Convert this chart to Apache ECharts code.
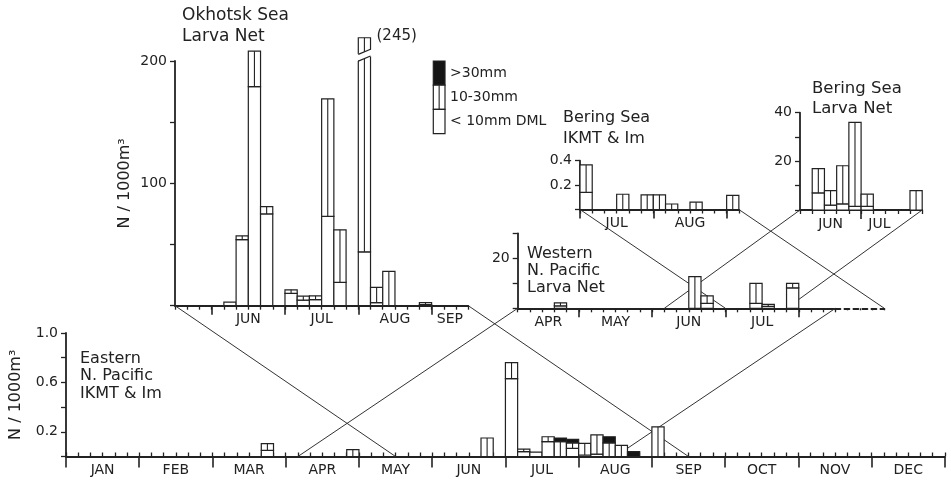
<!DOCTYPE html>
<html><head><meta charset="utf-8">
<script src="https://cdn.jsdelivr.net/npm/echarts@6/dist/echarts.min.js"></script>
<style>html,body{margin:0;padding:0;background:#fff}#c{width:951px;height:483px}</style>
</head><body><div id="c"></div>
<script>
// ---- DATA (x = 5-day period index, 6 per month, 0 = Jan 1-5) ----
const MONTHS = ['JAN','FEB','MAR','APR','MAY','JUN','JUL','AUG','SEP','OCT','NOV','DEC'];

// Eastern N. Pacific, IKMT & Im (N/1000 m3)
const eastBins  = [16, 23, 34, 36, 37, 38, 39, 40, 41, 42, 43, 44, 45, 46, 48];
const eastLt10  = [0.05, 0, 0, 0.63, 0.04, 0.035, 0.12, 0, 0.066, 0.012, 0.02, 0, 0, 0, 0];
const east10_30 = [0.055, 0.055, 0.15, 0.13, 0.02, 0, 0.04, 0.12, 0.045, 0.095, 0.155, 0.11, 0.09, 0, 0.24];
const eastGt30  = [0, 0, 0, 0, 0, 0, 0, 0.03, 0.028, 0, 0, 0.05, 0, 0.04, 0];

// Okhotsk Sea, Larva Net
const okhBins  = [31, 32, 33, 34, 36, 37, 38, 39, 40, 42, 43, 44, 47];
const okhLt10  = [3, 54, 179, 75, 10, 4.6, 5, 73, 19, 44, 2.5, 0, 1];
const okh10_30 = [0, 3, 29, 6, 3, 3.2, 3, 96, 43, 201, 12.5, 28, 1.5];
const okhGt30  = [0, 0, 0, 0, 0, 0, 0, 0, 0, 0, 0, 0, 0];

// Western N. Pacific, Larva Net
const westBins  = [22, 33, 34, 38, 39, 41];
const westLt10  = [1, 0, 2, 2, 0.8, 8.2];
const west10_30 = [1.2, 12.7, 3, 8, 0.8, 1.8];
const westGt30  = [0, 0, 0, 0, 0, 0];

// Bering Sea, IKMT & Im
const berIKBins  = [36, 39, 41, 42, 43, 45, 48];
const berIKLt10  = [0.14, 0, 0, 0, 0, 0, 0];
const berIK10_30 = [0.225, 0.125, 0.12, 0.12, 0.045, 0.06, 0.115];
const berIKGt30  = [0, 0, 0, 0, 0, 0, 0];

// Bering Sea, Larva Net
const berLNBins  = [32, 33, 34, 35, 36, 40];
const berLNLt10  = [7, 2, 2.5, 1.5, 1.5, 0];
const berLN10_30 = [10, 6, 15.7, 34.5, 5, 8];
const berLNGt30  = [0, 0, 0, 0, 0, 0];

// tick labels
const eastYLabels = [0.2, 0.6, 1.0];
const okhYLabels = [100, 200];
const westYLabels = [20];
const berIKYLabels = [0.2, 0.4];
const berLNYLabels = [20, 40];

const eastMonthPos = [3, 9, 15, 21, 27, 33, 39, 45, 51, 57, 63, 69];
const eastMonthTxt = MONTHS;
const okhMonthPos = [33, 39, 45, 49.5];
const okhMonthTxt = ['JUN', 'JUL', 'AUG', 'SEP'];
const westMonthPos = [21.5, 27, 33, 39];
const westMonthTxt = ['APR', 'MAY', 'JUN', 'JUL'];
const berIKMonthPos = [39, 45];
const berIKMonthTxt = ['JUL', 'AUG'];
const berLNMonthPos = [33.5, 37.5];
const berLNMonthTxt = ['JUN', 'JUL'];

// connector lines between panels: [panel, bin, panel, bin]
const links = [
  ['okh', 27, 'east', 27], ['okh', 51, 'east', 51],
  ['west', 19, 'east', 19], ['west', 45, 'east', 45],
  ['berIK', 36, 'west', 36], ['berIK', 49, 'wtail', 49],
  ['berLN', 31, 'west', 31], ['berLN', 41, 'west', 41]
];

// ---- LAYOUT / STYLE ----
const INK = '#222';
const FONT = 'DejaVu Sans';
const BIN_PX = 12.22;
const L = {
  east:  {gi: 0, left: 65,    top: 333,   height: 123.5, min: 0,  max: 72, yMax: 1.0, yInt: 0.2, tickIn: true, mTick: 11},
  okh:   {gi: 1, left: 175,   top: 61,    height: 244.7, min: 27, max: 51, yMax: 200, yInt: 50, mTick: 9},
  west:  {gi: 2, left: 517.7, top: 233.3, height: 75,    min: 19, max: 45, yMax: 30,  yInt: 10, mTick: 9},
  wtail: {gi: 3, left: 517.7 + 26 * BIN_PX, top: 233.3, height: 75, min: 45, max: 49, yMax: 30, yInt: 10, mTick: 9},
  berIK: {gi: 4, left: 580,   top: 160.7, height: 48.8,  min: 36, max: 49, yMax: 0.4, yInt: 0.2, mTick: 9},
  berLN: {gi: 5, left: 800,   top: 112.7, height: 97.3,  min: 31, max: 41, yMax: 40,  yInt: 10, mTick: 9}
};
const okhBreak = {cap: 219, gapFrom: 202, gapTo: 207.5, slant: 2.6};

const grids = [], xAxes = [], yAxes = [], series = [];
const AX = {}, AY = {};

function binAxis(g, dashed) {
  return {type: 'value', gridIndex: g.gi, min: g.min, max: g.max, interval: 1, position: 'bottom',
    axisLine: {show: true, onZero: false, lineStyle: {color: INK, width: 1.8, type: dashed ? [5, 4] : 'solid'}},
    axisTick: {show: true, inside: !!g.tickIn, length: 4, lineStyle: {color: INK, width: 1.3, type: dashed ? [2, 2] : 'solid'}},
    axisLabel: {show: false}, splitLine: {show: false}};
}
function monthAxis(g, pos, txt) {
  const bounds = [];
  for (let v = Math.ceil(g.min / 6) * 6; v <= g.max; v += 6) bounds.push(v);
  return {type: 'value', gridIndex: g.gi, min: g.min, max: g.max, position: 'bottom',
    axisLine: {show: false},
    axisTick: {show: true, length: g.mTick, customValues: bounds, lineStyle: {color: INK, width: 1.6}},
    axisLabel: {show: true, customValues: pos, margin: 7, color: INK, fontSize: 14, fontFamily: FONT,
      formatter: function (v) { const i = pos.findIndex(p => Math.abs(p - v) < 1e-6); return i < 0 ? '' : txt[i]; }},
    splitLine: {show: false}};
}
function valAxis(g, labels, dec, name) {
  const ax = {type: 'value', gridIndex: g.gi, min: 0, max: g.yMax, interval: g.yInt,
    axisLine: {show: true, onZero: false, lineStyle: {color: INK, width: 1.8}},
    axisTick: {show: true, length: 5, lineStyle: {color: INK, width: 1.3}},
    axisLabel: {margin: 8, color: INK, fontSize: 14, fontFamily: FONT,
      formatter: function (v) { return labels.some(l => Math.abs(l - v) < 1e-9) ? v.toFixed(dec) : ''; }},
    splitLine: {show: false}};
  if (name) {
    ax.name = name; ax.nameLocation = 'middle'; ax.nameRotate = 90; ax.nameGap = 42;
    ax.nameTextStyle = {fontSize: 16, color: INK, fontFamily: FONT};
  }
  return ax;
}
function makeBars(xi, yi, bins, lt, mid, gt, brk) {
  return {
    type: 'custom', xAxisIndex: xi, yAxisIndex: yi, z: 10, clip: false,
    data: bins.map((b, i) => [b, lt[i], mid[i], gt[i]]),
    encode: {x: 0, y: 1},
    renderItem: function (params, api) {
      const b = api.value(0);
      const vals = [api.value(1), api.value(2), api.value(3)];
      const total = vals[0] + vals[1] + vals[2];
      const capped = brk && total > brk.cap;
      const xl = api.coord([b, 0])[0], xr = api.coord([b + 1, 0])[0];
      const kids = [];
      let acc = 0;
      for (let k = 0; k < 3; k++) {
        if (!(vals[k] > 0)) continue;
        let lo = acc, hi = acc + vals[k];
        acc = hi;
        if (capped) { lo = Math.min(lo, brk.cap); hi = Math.min(hi, brk.cap); }
        if (hi <= lo) continue;
        const y0 = api.coord([b, lo])[1], y1 = api.coord([b, hi])[1];
        kids.push({type: 'rect', shape: {x: xl, y: y1, width: xr - xl, height: y0 - y1},
          style: {fill: k === 2 ? '#151515' : '#fff', stroke: INK, lineWidth: 1.2}});
        if (k === 1) kids.push({type: 'line', shape: {x1: (xl + xr) / 2, y1: y1, x2: (xl + xr) / 2, y2: y0},
          style: {stroke: INK, lineWidth: 1.1}});
      }
      if (capped) {
        const ya = api.coord([b, brk.gapFrom])[1], yb = api.coord([b, brk.gapTo])[1];
        const s = brk.slant;
        kids.push({type: 'polygon', shape: {points: [[xl - 2, ya + s], [xr + 2, ya - s], [xr + 2, yb - s], [xl - 2, yb + s]]},
          style: {fill: '#fff', stroke: null}});
        kids.push({type: 'line', shape: {x1: xl, y1: ya + s, x2: xr, y2: ya - s}, style: {stroke: INK, lineWidth: 1.2}});
        kids.push({type: 'line', shape: {x1: xl, y1: yb + s, x2: xr, y2: yb - s}, style: {stroke: INK, lineWidth: 1.2}});
        const yt = api.coord([b, brk.cap])[1];
        kids.push({type: 'text', style: {text: '(' + Math.round(total) + ')', x: xr + 6, y: yt - 2,
          verticalAlign: 'middle', fill: INK, font: '15px "DejaVu Sans"'}});
      }
      return {type: 'group', children: kids};
    }
  };
}

const panels = [
  ['east', eastMonthPos, eastMonthTxt, eastYLabels, 1, 'N / 1000m³', [eastBins, eastLt10, east10_30, eastGt30]],
  ['okh', okhMonthPos, okhMonthTxt, okhYLabels, 0, 'N / 1000m³', [okhBins, okhLt10, okh10_30, okhGt30]],
  ['west', westMonthPos, westMonthTxt, westYLabels, 0, null, [westBins, westLt10, west10_30, westGt30]],
  ['wtail', null, null, [], 0, null, null],
  ['berIK', berIKMonthPos, berIKMonthTxt, berIKYLabels, 1, null, [berIKBins, berIKLt10, berIK10_30, berIKGt30]],
  ['berLN', berLNMonthPos, berLNMonthTxt, berLNYLabels, 0, null, [berLNBins, berLNLt10, berLN10_30, berLNGt30]]
];
panels.forEach(p => {
  const key = p[0], g = L[key];
  grids.push({left: g.left, top: g.top, width: (g.max - g.min) * BIN_PX, height: g.height, containLabel: false});
  AX[key] = xAxes.length;
  xAxes.push(binAxis(g, key === 'wtail'));
  if (p[1]) xAxes.push(monthAxis(g, p[1], p[2]));
  AY[key] = yAxes.length;
  const ya = valAxis(g, p[3], p[4], p[5]);
  if (key === 'wtail') ya.show = false;
  yAxes.push(ya);
  if (p[6]) {
    const d = p[6];
    series.push(makeBars(AX[key], AY[key], d[0], d[1], d[2], d[3], key === 'okh' ? okhBreak : null));
  }
});

const tStyle = (fs, lh) => ({fontSize: fs, lineHeight: lh, fontWeight: 'normal', color: INK, fontFamily: FONT});
const option = {
  animation: false,
  backgroundColor: '#fff',
  textStyle: {fontFamily: FONT},
  title: [
    {text: 'Okhotsk Sea\nLarva Net', left: 182, top: 5, padding: 0, textStyle: tStyle(17, 21)},
    {text: 'Eastern\nN. Pacific\nIKMT & Im', left: 80, top: 350, padding: 0, textStyle: tStyle(16, 17.5)},
    {text: 'Western\nN. Pacific\nLarva Net', left: 527, top: 245.5, padding: 0, textStyle: tStyle(16, 17)},
    {text: 'Bering Sea\nIKMT & Im', left: 563, top: 107.5, padding: 0, textStyle: tStyle(16, 21)},
    {text: 'Bering Sea\nLarva Net', left: 812, top: 79, padding: 0, textStyle: tStyle(16.5, 20)}
  ],
  grid: grids, xAxis: xAxes, yAxis: yAxes, series: series
};
const chart = echarts.init(document.getElementById('c'), null, {renderer: 'canvas'});
chart.setOption(option);

// legend (stacked size-class key) and connector lines
const legendItems = [
  {name: '>30mm', fill: '#151515', line: false},
  {name: '10-30mm', fill: '#fff', line: true},
  {name: '< 10mm DML', fill: '#fff', line: false}
];
const LG = {x: 433.3, y: 61, w: 11.7, h: 24.2};
const gfx = [];
legendItems.forEach((it, i) => {
  const y = LG.y + i * LG.h;
  gfx.push({type: 'rect', shape: {x: LG.x, y: y, width: LG.w, height: LG.h}, style: {fill: it.fill, stroke: INK, lineWidth: 1.2}, z: 20});
  if (it.line) gfx.push({type: 'line', shape: {x1: LG.x + LG.w / 2, y1: y, x2: LG.x + LG.w / 2, y2: y + LG.h}, style: {stroke: INK, lineWidth: 1.1}, z: 20});
  gfx.push({type: 'text', x: LG.x + LG.w + 5, y: y + LG.h / 2, style: {text: it.name, fill: INK, font: '14px "DejaVu Sans"', verticalAlign: 'middle'}, z: 20});
});
const px = (key, x) => chart.convertToPixel({xAxisIndex: AX[key], yAxisIndex: AY[key]}, [x, 0]);
links.forEach(l => {
  const a = px(l[0], l[1]), b = px(l[2], l[3]);
  gfx.push({type: 'line', silent: true, z: 1, shape: {x1: a[0], y1: a[1], x2: b[0], y2: b[1]}, style: {stroke: '#333', lineWidth: 1}});
});
chart.setOption({graphic: gfx});
</script></body></html>
